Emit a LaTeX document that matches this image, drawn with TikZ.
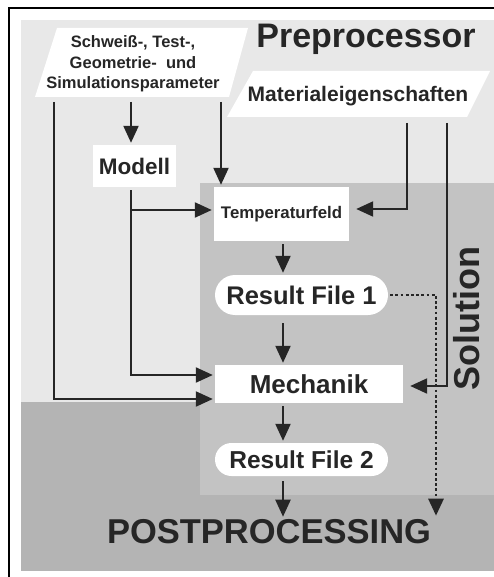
\documentclass[tikz,border=0pt]{standalone}
\usepackage{fontspec}
\setmainfont{Liberation Sans}
\usetikzlibrary{arrows.meta,shapes.misc,calc}
\definecolor{lightbg}{HTML}{E8E8E8}
\definecolor{midbg}{HTML}{C3C3C3}
\definecolor{darkbg}{HTML}{B4B4B4}
\definecolor{ink}{HTML}{262626}
\begin{document}
\begin{tikzpicture}[x=1pt,y=-1pt,
  lbl/.style={text=ink, inner sep=0pt},
  box/.style={fill=white, inner sep=0pt, text=ink},
  pill/.style={rounded rectangle, fill=white, inner sep=0pt, text=ink},
  arr/.style={draw=ink, line width=2.2pt, shorten <=3pt, shorten >=2pt, -{Triangle[length=17pt,width=15pt]}},
  dotarr/.style={draw=ink, line width=2.8pt, dash pattern=on 2.8pt off 2.4pt, shorten <=2pt, shorten >=3pt, -{Triangle[length=17pt,width=15pt]}}
]
\useasboundingbox (0,0) rectangle (494,577);
\fill[white] (0,0) rectangle (494,577);
% background regions
\fill[lightbg] (21,20) rectangle (494,402);
\fill[darkbg] (21,402) rectangle (494,571);
\fill[midbg] (200,183) rectangle (494,495);
% frame
\draw[black, line width=2pt] (9,578) -- (9,8) -- (495,8);
% parallelograms
\fill[white] (35,97) -- (57,28) -- (248,28) -- (229,97) -- cycle;
\fill[white] (227,117) -- (253,71) -- (490,71) -- (467,117) -- cycle;
% texts and nodes
\node[lbl, font=\fontsize{16.5}{20.5}\selectfont\bfseries, align=center] (spar) at (133,64) {Schweiß-, Test-,\\Geometrie-~ und\\Simulationsparameter};
\node[lbl, font=\fontsize{34}{38}\selectfont\bfseries, anchor=base] (pre) at (366,48) {Preprocessor};
\node[lbl, font=\fontsize{21}{24}\selectfont\bfseries, anchor=base] (mat) at (358,102) {Materialeigenschaften};
\node[box, font=\fontsize{22.5}{26}\selectfont\bfseries, minimum width=83pt, minimum height=42pt] (modell) at (134.5,166) {Modell};
\node[box, font=\fontsize{16.8}{20}\selectfont\bfseries, minimum width=135pt, minimum height=54pt] (tf) at (281.5,214) {Temperaturfeld};
\node[pill, font=\fontsize{25.5}{29}\selectfont\bfseries, minimum width=173pt, minimum height=40pt] (r1) at (301.5,295) {Result File 1};
\node[box, font=\fontsize{26}{30}\selectfont\bfseries, minimum width=188pt, minimum height=38pt] (mech) at (309,384) {Mechanik};
\node[pill, font=\fontsize{24.5}{28}\selectfont\bfseries, minimum width=173pt, minimum height=33pt] (r2) at (301.5,459.5) {Result File 2};
\node[lbl, font=\fontsize{34.5}{38}\selectfont\bfseries, anchor=base] (post) at (269,543) {POSTPROCESSING};
\node[lbl, font=\fontsize{36}{40}\selectfont\bfseries, rotate=90] (sol) at (467,319) {Solution};
% named helper coordinates
\coordinate (sparbase) at (133,99);
\coordinate (matbase) at (358,120);
\coordinate (colL) at (54,0);
\coordinate (colM) at (131,0);
\coordinate (colT) at (221,0);
\coordinate (colC) at (283,0);
\coordinate (colD) at (436,0);
\coordinate (colA) at (407,0);
\coordinate (colB) at (447,0);
\coordinate (tfW) at ([yshift=4pt]tf.west);
\coordinate (tfE) at ([yshift=5pt]tf.east);
\coordinate (mechWu) at ([yshift=9pt]mech.west);
\coordinate (mechWl) at ([yshift=-15pt]mech.west);
\coordinate (mechE) at ([yshift=-2pt]mech.east);
% connectors
\draw[arr] (sparbase -| colM) -- (modell.north -| colM);
\draw[arr] (sparbase -| colL) |- (mechWl);
\draw[arr] (sparbase -| colT) -- (tf.north -| colT);
\draw[arr] (modell.south -| colM) |- (mechWu);
\draw[arr, shorten <=0pt] (tfW -| colM) -- (tfW);
\draw[arr, shorten >=7pt] (matbase -| colA) |- (tfE);
\draw[arr, shorten >=7pt] (matbase -| colB) |- (mechE);
\draw[dotarr] (r1.east) -| (colD |- post.north);
\draw[arr] (tf.south -| colC) -- (r1.north -| colC);
\draw[arr, shorten <=8pt] (r1.south -| colC) -- (mech.north -| colC);
\draw[arr] (mech.south -| colC) -- (r2.north -| colC);
\draw[arr, shorten <=5pt] (r2.south -| colC) -- (post.north -| colC);
\end{tikzpicture}
\end{document}
